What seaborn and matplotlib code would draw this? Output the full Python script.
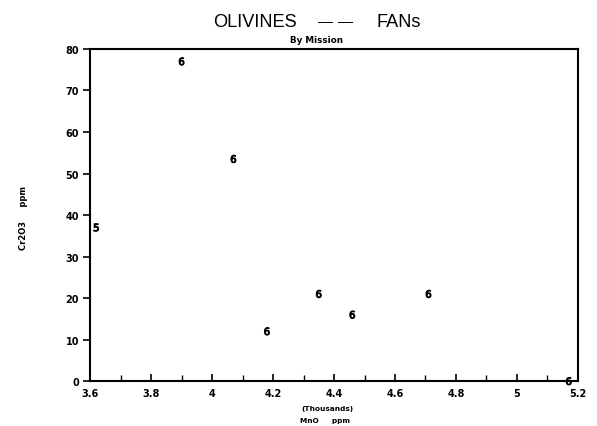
import matplotlib
matplotlib.use("Agg")
import matplotlib.pyplot as plt
from matplotlib.ticker import MultipleLocator, FixedLocator, FixedFormatter
import seaborn as sns
import pandas as pd

# Data
mno_thousands = [3.62, 3.90, 4.07, 4.18, 4.35, 4.46, 4.71, 5.17]
cr2o3_ppm = [37, 77, 53.5, 12, 21, 16, 21, 0]
mission = ["5", "6", "6", "6", "6", "6", "6", "6"]
x_ticks = [3.6, 3.8, 4.0, 4.2, 4.4, 4.6, 4.8, 5.0, 5.2]
x_tick_labels = ["3.6", "3.8", "4", "4.2", "4.4", "4.6", "4.8", "5", "5.2"]

df = pd.DataFrame({"MnO": mno_thousands, "Cr2O3": cr2o3_ppm, "Mission": mission})

sns.set_theme(style="ticks")
plt.rcParams.update({
    "font.family": ["DejaVu Sans"],
    "xtick.bottom": True, "xtick.top": False,
    "xtick.direction": "in",
    "xtick.major.size": 5, "xtick.major.width": 1.2,
    "xtick.minor.size": 4, "xtick.minor.width": 1.0,
    "ytick.left": True, "ytick.right": False,
    "ytick.direction": "out",
    "ytick.major.size": 5, "ytick.major.width": 1.2,
    "xtick.color": "black", "ytick.color": "black",
})

fig = plt.figure(figsize=(5.97, 4.27), dpi=100)
ax = fig.add_axes([0.151, 0.105, 0.817, 0.778])

sns.scatterplot(data=df, x="MnO", y="Cr2O3", style="Mission",
                markers={"5": "$5$", "6": "$6$"}, color="black",
                s=30, linewidth=0.7, edgecolor="black", legend=False,
                clip_on=False, ax=ax)

ax.set_xlim(3.6, 5.2)
ax.set_ylim(0, 80)
ax.xaxis.set_major_locator(FixedLocator(x_ticks))
ax.xaxis.set_major_formatter(FixedFormatter(x_tick_labels))
ax.xaxis.set_minor_locator(FixedLocator([3.7, 3.9, 4.1, 4.3, 4.5, 4.7, 4.9, 5.1]))
ax.yaxis.set_major_locator(MultipleLocator(10))

ax.tick_params(axis="x", which="major", labelsize=7, pad=5)
ax.tick_params(axis="y", which="major", labelsize=7, pad=3)
for lab in ax.get_xticklabels() + ax.get_yticklabels():
    lab.set_fontweight("bold")

for sp in ax.spines.values():
    sp.set_visible(True)
    sp.set_color("black")
    sp.set_linewidth(1.5)

ax.set_xlabel("")
ax.set_ylabel("")

title_kw = dict(ha="center", va="center", color="black",
                family=["Liberation Sans", "DejaVu Sans"])
fig.text(0.427, 0.948, "OLIVINES", fontsize=13.1, **title_kw)
fig.text(0.545, 0.949, "\u2014", fontsize=10.8, **title_kw)
fig.text(0.579, 0.949, "\u2014", fontsize=10.8, **title_kw)
fig.text(0.668, 0.948, "FANs", fontsize=13.1, **title_kw)
fig.text(0.53, 0.905, "By Mission", ha="center", va="center",
         fontsize=6.3, fontweight="bold", color="black")
fig.text(0.548, 0.042, "(Thousands)", ha="center", va="center",
         fontsize=5.3, fontweight="bold", color="black")
fig.text(0.545, 0.015, "MnO     ppm", ha="center", va="center",
         fontsize=5.3, fontweight="bold", color="black")
fig.text(0.04, 0.49, "Cr2O3     ppm", ha="center", va="center",
         rotation=90, fontsize=6, fontweight="bold", color="black")

fig.savefig("out.png", dpi=100, facecolor="white")
